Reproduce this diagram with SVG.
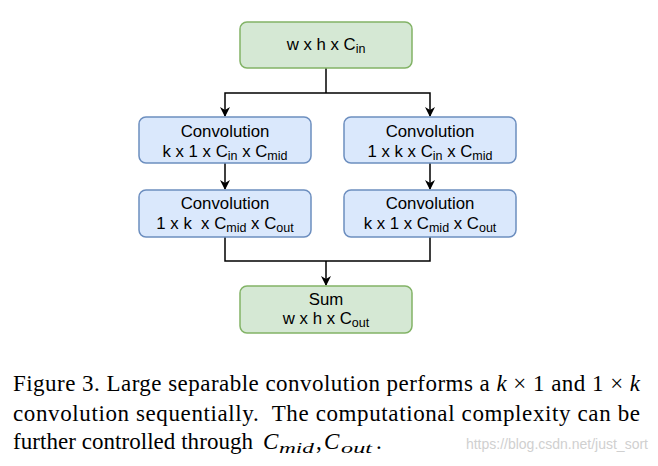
<svg xmlns="http://www.w3.org/2000/svg" width="658" height="466" viewBox="0 0 658 466">
<defs>
<style>
.g{fill:#d5e8d4;stroke:#82b366;stroke-width:1.5}
.b{fill:#dae8fc;stroke:#6c8ebf;stroke-width:1.5}
.t{font-family:'Liberation Sans',Arial,sans-serif;font-size:16.8px;fill:#000;text-anchor:middle}
.s{font-size:12.5px}
.c{stroke:#000;stroke-width:1.5;fill:none}
.cap{font-family:'Liberation Serif','Times New Roman',serif;font-size:23px;fill:#000}
.i{font-style:italic}
.sub{font-family:'Liberation Serif','Times New Roman',serif;font-size:15.5px;font-style:italic;fill:#000}
</style>
<marker id="ar" viewBox="0 0 10 10" refX="9" refY="5" markerWidth="10" markerHeight="10" orient="auto" markerUnits="userSpaceOnUse">
<path d="M0,0 L10,5 L0,10 L3,5 Z" fill="#000"/>
</marker>
</defs>
<rect width="658" height="466" fill="#fff"/>
<g id="connectors">
<path class="c" d="M326,68 V93"/>
<path class="c" d="M326,93 H225 V116" marker-end="url(#ar)"/>
<path class="c" d="M326,93 H430 V116" marker-end="url(#ar)"/>
<path class="c" d="M225,163 V189" marker-end="url(#ar)"/>
<path class="c" d="M430,163 V189" marker-end="url(#ar)"/>
<path class="c" d="M225,237 V261 H430 V237"/>
<path class="c" d="M326,261 V285" marker-end="url(#ar)"/>
</g>
<g id="input">
<rect class="g" x="240" y="22" width="172" height="46" rx="7"/>
<text class="t" x="326" y="50">w x h x C<tspan class="s" dy="3">in</tspan></text>
</g>
<g id="convL1">
<rect class="b" x="139" y="117" width="172" height="46" rx="7"/>
<text class="t" x="225" y="137">Convolution</text>
<text class="t" x="225" y="157">k x 1 x C<tspan class="s" dy="3">in</tspan><tspan dy="-3"> x C</tspan><tspan class="s" dy="3">mid</tspan></text>
</g>
<g id="convR1">
<rect class="b" x="344" y="117" width="172" height="46" rx="7"/>
<text class="t" x="430" y="137">Convolution</text>
<text class="t" x="430" y="157">1 x k x C<tspan class="s" dy="3">in</tspan><tspan dy="-3"> x C</tspan><tspan class="s" dy="3">mid</tspan></text>
</g>
<g id="convL2">
<rect class="b" x="139" y="190" width="172" height="47" rx="7"/>
<text class="t" x="225" y="209">Convolution</text>
<text class="t" x="225" y="229" xml:space="preserve">1 x k  x C<tspan class="s" dy="3">mid</tspan><tspan dy="-3"> x C</tspan><tspan class="s" dy="3">out</tspan></text>
</g>
<g id="convR2">
<rect class="b" x="344" y="190" width="172" height="47" rx="7"/>
<text class="t" x="430" y="209">Convolution</text>
<text class="t" x="430" y="229">k x 1 x C<tspan class="s" dy="3">mid</tspan><tspan dy="-3"> x C</tspan><tspan class="s" dy="3">out</tspan></text>
</g>
<g id="sum">
<rect class="g" x="240" y="286" width="172" height="47" rx="7"/>
<text class="t" x="326" y="305">Sum</text>
<text class="t" x="326" y="324">w x h x C<tspan class="s" dy="3">out</tspan></text>
</g>
<g id="caption">
<text class="cap" x="13" y="391" textLength="627" lengthAdjust="spacing">Figure 3. Large separable convolution performs a <tspan class="i">k</tspan> × 1 and 1 × <tspan class="i">k</tspan></text>
<text class="cap" x="13" y="421" textLength="627" lengthAdjust="spacing" xml:space="preserve">convolution sequentially.  The computational complexity can be</text>
<text class="cap" x="13" y="449" textLength="240" lengthAdjust="spacing">further controlled through</text>
<text class="cap i" x="263" y="449">C</text>
<text class="sub" x="279" y="453" textLength="35" lengthAdjust="spacingAndGlyphs">mid</text>
<text class="cap" x="316" y="449">,</text>
<text class="cap i" x="324" y="449">C</text>
<text class="sub" x="341" y="453" textLength="31" lengthAdjust="spacingAndGlyphs">out</text>
<text class="cap" x="376" y="449">.</text>
<text x="648" y="449" font-family="'Liberation Sans',Arial,sans-serif" font-size="14" fill="#d0d0d0" text-anchor="end">https://blog.csdn.net/just_sort</text>
</g>
</svg>
